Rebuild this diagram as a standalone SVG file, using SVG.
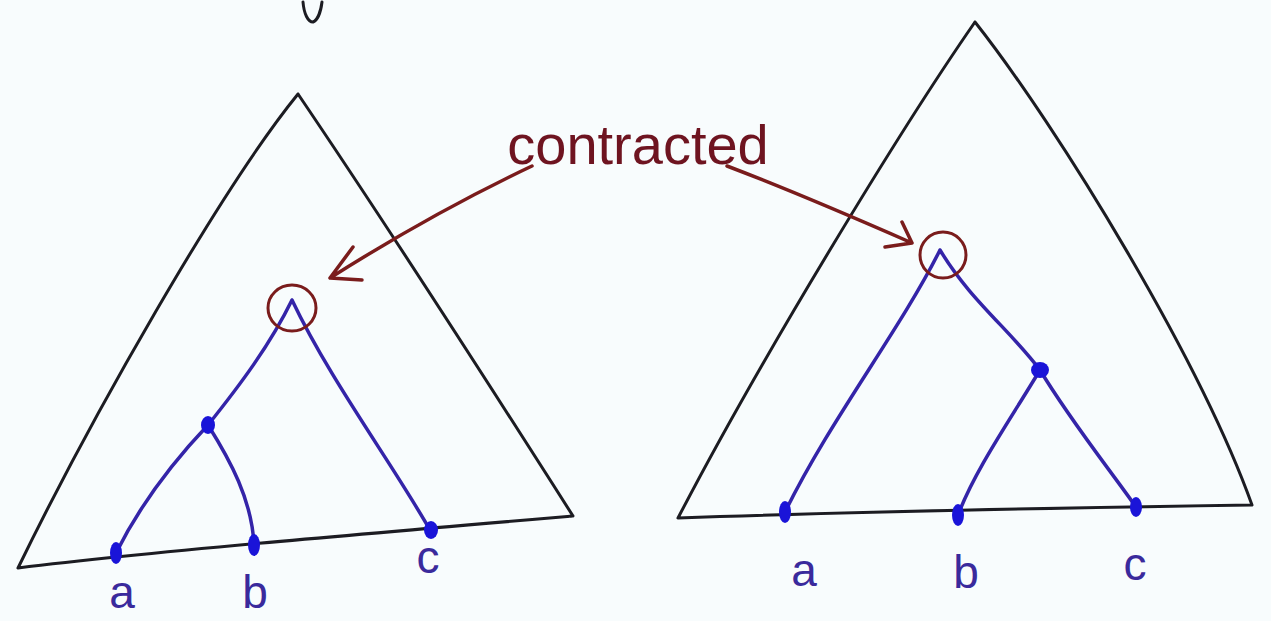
<svg xmlns="http://www.w3.org/2000/svg" width="1271" height="621" viewBox="0 0 1271 621">
<style>
.tri{fill:none;stroke:#1c1c22;stroke-width:3;stroke-linecap:round;stroke-linejoin:round}
.edge{fill:none;stroke:#3424a8;stroke-width:3.5;stroke-linecap:round;stroke-linejoin:round}
.dot{fill:#1a14d8}
.ring{fill:none;stroke:#7a1c1c;stroke-width:3}
.arr{fill:none;stroke:#7a1c1c;stroke-width:3.5;stroke-linecap:round;stroke-linejoin:round}
.lbl{font-family:"Liberation Sans",Arial,sans-serif;font-size:46px;fill:#3a2a9c;text-anchor:middle}
.note{font-family:"Liberation Sans",Arial,sans-serif;font-size:56px;fill:#6e1420;text-anchor:middle}
</style>
<rect width="1271" height="621" fill="#f8fcfd"/>
<path class="tri" d="M303,2 C304,14 308,22 313,22 C318,20 321,10 322,2" stroke-width="2.5"/>
<g id="left-tree">
<path class="tri" d="M298,94 C220,190 90,420 18,568 M298,94 C380,215 480,370 573,516 M18,568 C150,552 350,535 573,516"/>
<path class="edge" d="M292,300 C270,345 240,385 208,425 C170,465 140,505 116,553 M208,425 C230,460 252,500 254,545 M292,300 C330,380 390,460 430,530"/>
<ellipse class="dot" cx="208" cy="425" rx="7" ry="9"/>
<ellipse class="dot" cx="116" cy="553" rx="6" ry="11"/>
<ellipse class="dot" cx="254" cy="545" rx="6" ry="11"/>
<ellipse class="dot" cx="431" cy="530" rx="7" ry="9"/>
<ellipse class="ring" cx="292" cy="308" rx="24" ry="23"/>
<text class="lbl" x="122" y="608">a</text>
<text class="lbl" x="255" y="608">b</text>
<text class="lbl" x="428" y="573">c</text>
</g>
<g id="right-tree">
<path class="tri" d="M975,22 C900,130 760,360 678,518 M975,22 C1060,130 1200,360 1252,505 M678,518 C850,512 1050,508 1252,505"/>
<path class="edge" d="M940,250 C900,330 830,420 785,512 M940,250 C970,300 1010,330 1040,370 C1010,420 975,470 958,515 M1040,370 C1070,420 1110,470 1136,507"/>
<ellipse class="dot" cx="1040" cy="370" rx="9" ry="8"/>
<ellipse class="dot" cx="785" cy="512" rx="6" ry="11"/>
<ellipse class="dot" cx="958" cy="515" rx="6" ry="11"/>
<ellipse class="dot" cx="1136" cy="507" rx="6" ry="10"/>
<circle class="ring" cx="943" cy="255" r="23"/>
<text class="lbl" x="804" y="586">a</text>
<text class="lbl" x="966" y="588">b</text>
<text class="lbl" x="1135" y="580">c</text>
</g>
<g id="label-contracted">
<text class="note" x="638" y="164">contracted</text>
</g>
<g id="connectors">
<path class="arr" d="M532,166 C460,200 390,240 330,278 M330,278 L353,247 M330,278 L362,280"/>
<path class="arr" d="M727,166 C790,190 855,218 912,243 M912,243 L902,222 M912,243 L885,247"/>
</g>
</svg>
